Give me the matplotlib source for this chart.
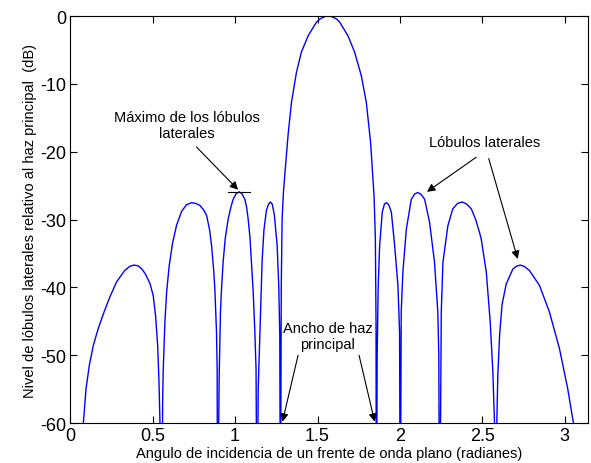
import matplotlib
matplotlib.use("Agg")
import matplotlib.pyplot as plt

plt.rcParams['font.family'] = ['Liberation Sans', 'DejaVu Sans']

# Curve: angle (rad) and level (dB); -80 marks a null
theta = [0.072, 0.079, 0.095, 0.115, 0.14, 0.17, 0.205, 0.24, 0.28, 0.33,
         0.36, 0.385, 0.41, 0.435, 0.455, 0.483, 0.503, 0.517, 0.53, 0.538, 0.544, 0.548,
         0.556, 0.56, 0.564, 0.574, 0.585, 0.6, 0.62, 0.645, 0.675, 0.705, 0.736,
         0.76, 0.786, 0.81, 0.827, 0.845, 0.857, 0.87, 0.877, 0.887, 0.891, 0.893,
         0.903, 0.911, 0.918, 0.927, 0.94, 0.958, 0.975, 0.988, 1.005, 1.024,
         1.042, 1.059, 1.07, 1.079, 1.09, 1.099, 1.11, 1.119, 1.127, 1.133,
         1.14, 1.15, 1.164, 1.175, 1.19, 1.203, 1.214, 1.225, 1.238, 1.255, 1.265, 1.271, 1.275,
         1.28, 1.285, 1.293, 1.301, 1.321, 1.342, 1.372, 1.402, 1.443, 1.493, 1.515, 1.545,
         1.565, 1.585, 1.615, 1.635, 1.685, 1.725, 1.766, 1.796, 1.822, 1.843, 1.851, 1.855,
         1.857, 1.862, 1.868, 1.877, 1.893, 1.906, 1.918, 1.932, 1.948, 1.968, 1.988, 1.998, 2.002,
         2.008, 2.018, 2.039, 2.069, 2.09, 2.109, 2.13, 2.15, 2.18, 2.21, 2.23,
         2.236, 2.241, 2.251, 2.261, 2.291, 2.321, 2.35, 2.378, 2.405, 2.433, 2.46, 2.483,
         2.493, 2.524, 2.548, 2.564, 2.574, 2.578, 2.584, 2.588, 2.594, 2.605, 2.62, 2.645,
         2.685, 2.705, 2.73, 2.755, 2.786, 2.847, 2.907, 2.968, 3.018, 3.053, 3.06]
level = [-62, -60, -55, -51.5, -48.5, -46, -43.6, -41.4, -39.2, -37.5,
         -36.9, -36.7, -36.8, -37.3, -38.0, -39.4, -41.2, -44.1, -48.6, -53.9, -60, -80,
         -80, -57, -52, -45, -40.5, -36.8, -33.5, -30.8, -28.8, -27.8, -27.5,
         -27.6, -27.9, -28.6, -29.4, -31.5, -33.8, -37.5, -40.2, -46.6, -52, -80,
         -53.5, -43.6, -40, -36.3, -32.8, -29.9, -28.1, -27.0, -26.2, -25.9,
         -26.2, -27.0, -28.2, -29.9, -32.6, -36.3, -40.8, -46.1, -52, -80,
         -55, -47, -36, -31.5, -28.6, -27.7, -27.4, -27.7, -29.3, -33.8, -40, -47, -80,
         -40, -30, -26, -23.5, -17.6, -12.7, -8.3, -5.3, -2.9, -0.9, -0.4, -0.06,
         0, -0.06, -0.4, -0.9, -2.9, -5.3, -8.8, -12.7, -18.6, -26.5, -32.8, -45,
         -80, -50, -40, -33.8, -28.9, -27.7, -27.5, -27.8, -28.9, -33.8, -39.7, -46.6, -80,
         -43.6, -37.7, -31.4, -27.0, -26.2, -26.0, -26.3, -27.0, -30.4, -36.3, -43.6,
         -50, -80, -43.6, -36.3, -30.9, -28.4, -27.6, -27.4, -27.7, -28.4, -30.0, -31.9,
         -32.8, -37.7, -45.1, -52.5, -60, -80, -80, -60, -53, -47, -42.5, -39.5,
         -37.3, -36.9, -36.7, -36.9, -37.5, -39.7, -43.6, -49.0, -54.9, -60, -62]

x_ticks = [0, 0.5, 1, 1.5, 2, 2.5, 3]
x_tick_labels = ["0", "0.5", "1", "1.5", "2", "2.5", "3"]
y_ticks = [0, -10, -20, -30, -40, -50, -60]
y_tick_labels = ["0", "-10", "-20", "-30", "-40", "-50", "-60"]

fig = plt.figure(figsize=(5.91, 4.64), dpi=100)
ax = fig.add_axes([0.119, 0.086, 0.876, 0.877])

ax.plot(theta, level, color="#0000ff", linewidth=1.0)

ax.set_xlim(0, 3.1416)
ax.set_ylim(-60, 0)
ax.set_xticks(x_ticks)
ax.set_xticklabels(x_tick_labels)
ax.set_yticks(y_ticks)
ax.set_yticklabels(y_tick_labels)
ax.tick_params(direction="in", top=True, right=True, length=5, width=0.8,
               labelsize=13, pad=3)
for s in ax.spines.values():
    s.set_linewidth(0.8)

ax.set_xlabel("Angulo de incidencia de un frente de onda plano (radianes)",
              fontsize=10.5, labelpad=1)
ax.set_ylabel("Nivel de lóbulos laterales relativo al haz principal  (dB)",
              fontsize=10.5, labelpad=2)

arrow = dict(arrowstyle="-|>", color="black", lw=0.8, mutation_scale=12,
             shrinkA=0, shrinkB=0)

# Maximo de los lobulos laterales
ax.text(0.705, -16.05, "Máximo de los lóbulos\nlaterales", fontsize=10.5,
        ha="center", va="center", linespacing=1.2)
ax.annotate("", xy=(1.018, -25.6), xytext=(0.766, -19.3), arrowprops=arrow)
ax.plot([0.958, 1.089], [-25.9, -25.9], color="black", linewidth=0.8)

# Lobulos laterales
ax.text(2.513, -18.6, "Lóbulos laterales", fontsize=10.5, ha="center", va="center")
ax.annotate("", xy=(2.164, -25.9), xytext=(2.463, -20.8), arrowprops=arrow)
ax.annotate("", xy=(2.715, -35.8), xytext=(2.539, -21.0), arrowprops=arrow)

# Ancho de haz principal
ax.text(1.562, -47.2, "Ancho de haz\nprincipal", fontsize=10.5,
        ha="center", va="center", linespacing=1.2)
ax.annotate("", xy=(1.287, -59.8), xytext=(1.382, -50.0), arrowprops=arrow)
ax.annotate("", xy=(1.847, -59.8), xytext=(1.752, -50.0), arrowprops=arrow)

fig.savefig("out.png", dpi=100)
